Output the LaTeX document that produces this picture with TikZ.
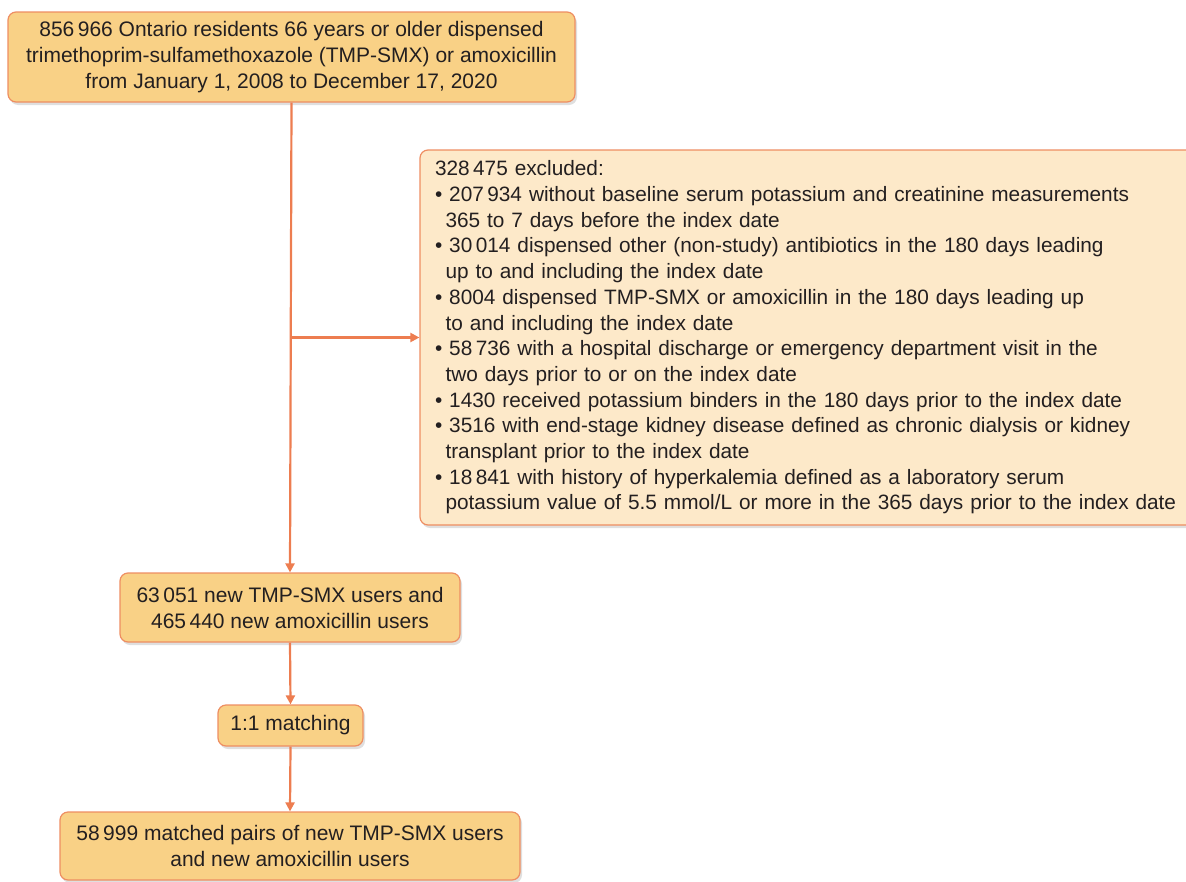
\documentclass[tikz,border=0pt]{standalone}
\usepackage{fontspec}
\setmainfont{Liberation Sans}
\usetikzlibrary{arrows.meta, shadows}
\definecolor{boxfill}{RGB}{249,209,134}
\definecolor{boxline}{RGB}{238,142,98}
\definecolor{exclfill}{RGB}{253,233,201}
\definecolor{arrowcol}{RGB}{237,125,80}
\definecolor{textcol}{RGB}{35,31,32}
\newcommand{\exclindent}{\hspace*{10.5pt}}
\begin{document}
\begin{tikzpicture}[x=1pt, y=1pt, >={Triangle[length=9pt, width=9pt]},
  flowbox/.style={draw=boxline, line width=1.2pt, fill=boxfill, rounded corners=8pt,
    text=textcol, align=center, font=\fontsize{21}{26}\selectfont,
    drop shadow={shadow xshift=2pt, shadow yshift=-3pt, opacity=0.25}},
  flow/.style={->, draw=arrowcol, fill=arrowcol, line width=2.2pt}]
\useasboundingbox (0,0) rectangle (1186,-881);
\clip (0,0) rectangle (1186,-881);
% Main column of boxes
\node[flowbox, minimum width=567pt, minimum height=90pt] (cohort) at (291.5,-57)
  {856\,966 Ontario residents 66 years or older dispensed\\
   trimethoprim-sulfamethoxazole (TMP-SMX) or amoxicillin\\
   from January 1, 2008 to December 17, 2020};
\node[flowbox, minimum width=340pt, minimum height=69pt] (users) at (290,-607.5)
  {63\,051 new TMP-SMX users and\\ 465\,440 new amoxicillin users};
\node[flowbox, minimum width=145pt, minimum height=41pt] (match) at (290.5,-725.5)
  {1:1 matching};
\node[flowbox, minimum width=460pt, minimum height=68pt] (pairs) at (290,-846)
  {58\,999 matched pairs of new TMP-SMX users\\ and new amoxicillin users};
% Exclusion box
\node[flowbox, fill=exclfill, text width=750pt, inner xsep=15pt, align=left,
  minimum height=375pt, font=\fontsize{20.8}{25.7}\selectfont] (excl) at (810,-337.5)
  {328\,475 excluded:\\
   • 207\,934 without baseline serum potassium and creatinine measurements\\
   \exclindent 365 to 7 days before the index date\\
   • 30\,014 dispensed other (non-study) antibiotics in the 180 days leading\\
   \exclindent up to and including the index date\\
   • 8004 dispensed TMP-SMX or amoxicillin in the 180 days leading up\\
   \exclindent to and including the index date\\
   • 58\,736 with a hospital discharge or emergency department visit in the\\
   \exclindent two days prior to or on the index date\\
   • 1430 received potassium binders in the 180 days prior to the index date\\
   • 3516 with end-stage kidney disease defined as chronic dialysis or kidney\\
   \exclindent transplant prior to the index date\\
   • 18\,841 with history of hyperkalemia defined as a laboratory serum\\
   \exclindent potassium value of 5.5 mmol/L or more in the 365 days prior to the index date};
% Connectors
\coordinate (branch) at (cohort.south |- excl.west);
\draw[flow] (cohort.south) -- (users.north);
\draw[flow] (branch) -- (excl.west);
\draw[flow] (users.south) -- (match.north);
\draw[flow] (match.south) -- (pairs.north);
\end{tikzpicture}
\end{document}
